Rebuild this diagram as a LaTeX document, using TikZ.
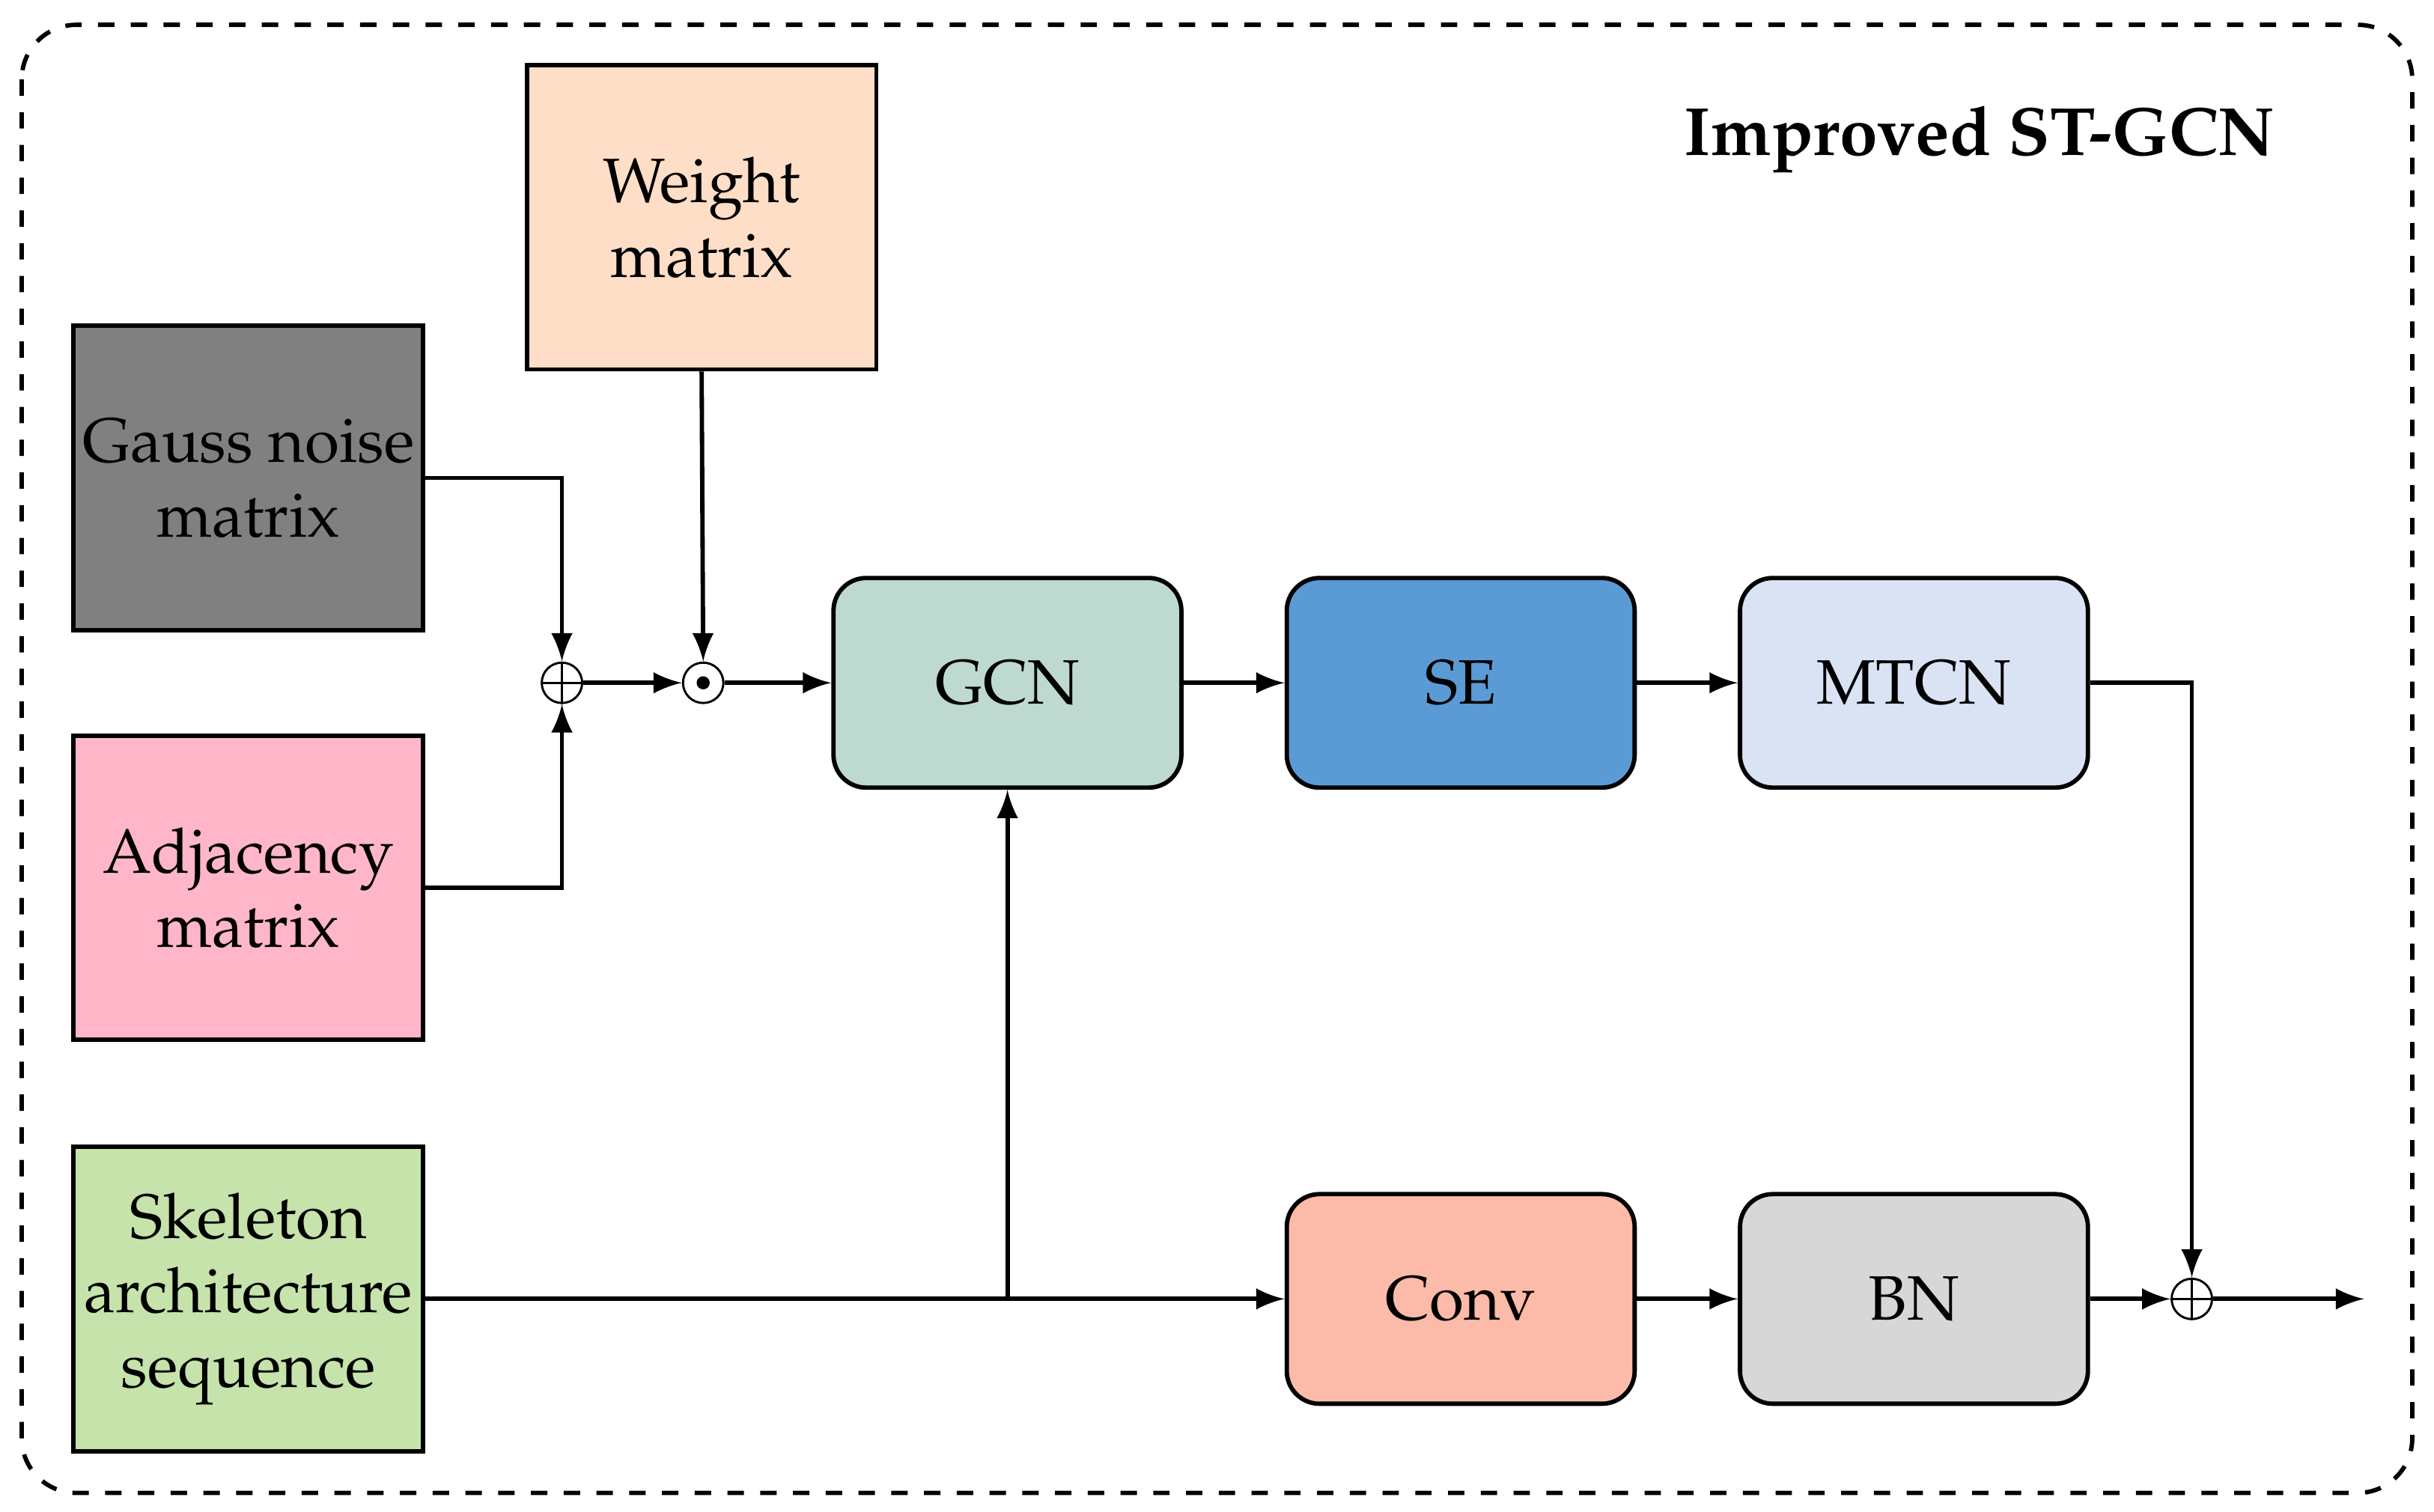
\documentclass[tikz,border=0pt]{standalone}
\usepackage[T1]{fontenc}
\usepackage{mathpazo}
\usepackage{amsmath}
\usetikzlibrary{positioning,calc,arrows}

\definecolor{peach}{RGB}{255,222,200}
\definecolor{gnoise}{RGB}{128,128,128}
\definecolor{adjpink}{RGB}{255,182,200}
\definecolor{skgreen}{RGB}{197,227,170}
\definecolor{gcncol}{RGB}{190,218,208}
\definecolor{secol}{RGB}{91,155,213}
\definecolor{mtcncol}{RGB}{218,227,243}
\definecolor{convcol}{RGB}{251,187,168}
\definecolor{bncol}{RGB}{215,215,215}

\begin{document}
\begin{tikzpicture}[x=0.01cm, y=-0.01cm, every node/.style={font=\fontsize{11.5}{13.6}\selectfont},
inbox/.style={draw, thick, minimum width=2.25cm, minimum height=1.96cm, align=center, inner sep=0pt},
block/.style={draw, thick, rounded corners=6pt, minimum width=2.24cm, minimum height=1.35cm, inner sep=0pt},
opnode/.style={circle, draw, inner sep=0pt, minimum size=0.26cm},
arr/.style={thick, -latex}]

\useasboundingbox (0,0) rectangle (1568,974);
\draw[thick, dashed, rounded corners=10pt] (14,16) rectangle (1554,962);
\node[anchor=east, font=\fontsize{12.5}{14}\selectfont\bfseries] (title) at (1478,90) {Improved ST-GCN};

\node[inbox, fill=peach] (weight) at (452,140) {Weight\\matrix};
\node[inbox, fill=gnoise] (gauss) at (160,308) {Gauss noise\\matrix};
\node[inbox, fill=adjpink] (adj) at (160,572) {Adjacency\\matrix};
\node[inbox, fill=skgreen] (skel) at (160,837) {Skeleton\\architecture\\sequence};

\node[opnode] (plus) at (362,440) {};
\draw (plus.north) -- (plus.south) (plus.west) -- (plus.east);
\node[opnode] (dot) at (453,440) {};
\fill (dot.center) circle (1.2pt);

\node[block, fill=gcncol] (gcn) at (649,440) {GCN};
\node[block, fill=secol] (se) at (941,440) {SE};
\node[block, fill=mtcncol] (mtcn) at (1233,440) {MTCN};
\node[block, fill=convcol] (conv) at (941,837) {Conv};
\node[block, fill=bncol] (bn) at (1233,837) {BN};

\node[opnode] (sum) at (1412,837) {};
\draw (sum.north) -- (sum.south) (sum.west) -- (sum.east);
\coordinate (out) at (1523,837);
\coordinate (split) at (649,837);

\draw[arr] (gauss.east) -| (plus.north);
\draw[arr] (adj.east) -| (plus.south);
\draw[arr] (weight.south) -- (dot.north);
\draw[arr] (plus) -- (dot);
\draw[arr] (dot) -- (gcn);
\draw[arr] (gcn) -- (se);
\draw[arr] (se) -- (mtcn);
\draw[arr] (mtcn.east) -| (sum.north);
\draw[arr] (skel.east) -- (conv.west);
\draw[arr] (split) -- (gcn.south);
\draw[arr] (conv) -- (bn);
\draw[arr] (bn) -- (sum);
\draw[arr] (sum) -- (out);

\end{tikzpicture}
\end{document}
